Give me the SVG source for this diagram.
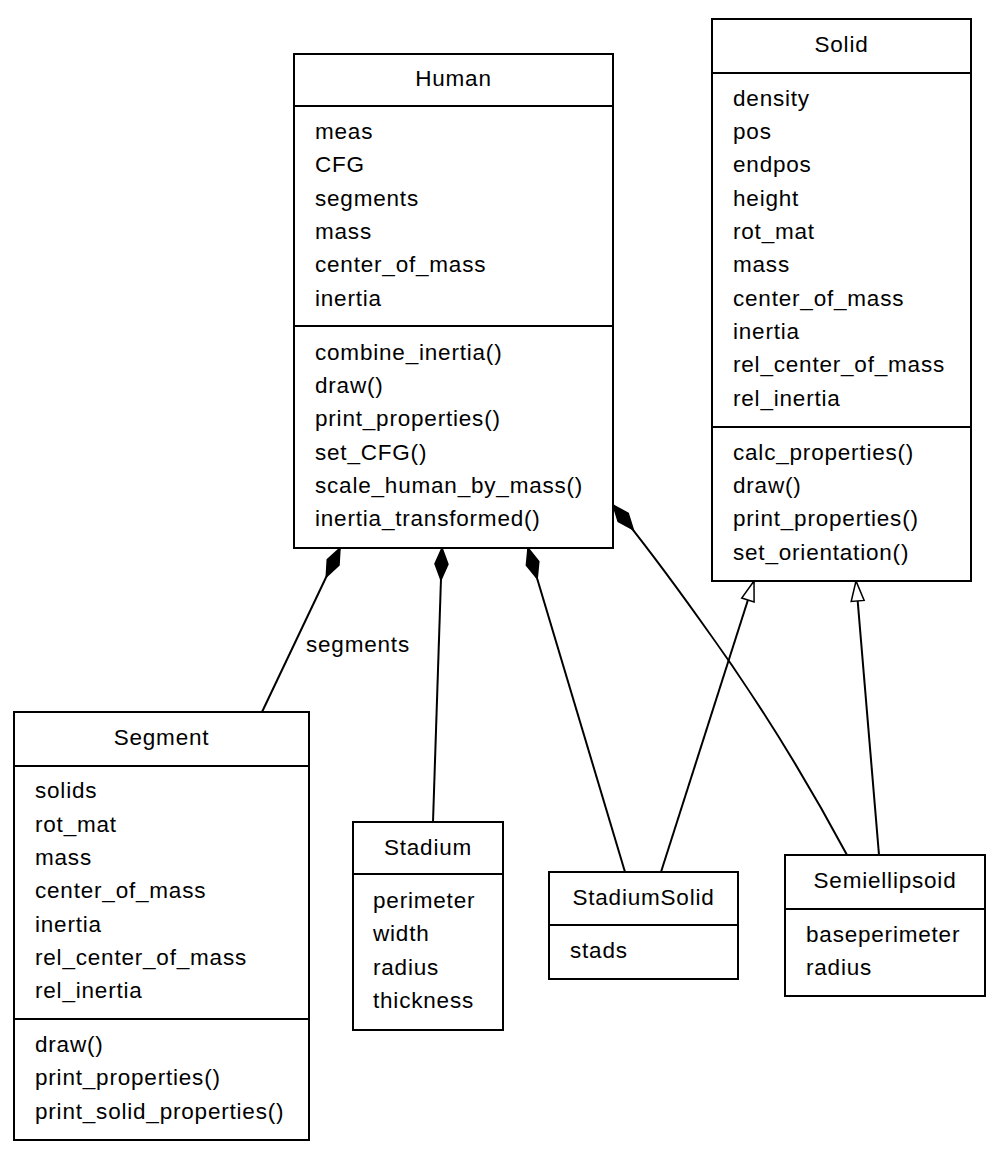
<svg xmlns="http://www.w3.org/2000/svg" width="1000" height="1163" viewBox="0 0 1000 1163">
<style>
rect{fill:#fff;stroke:#000;stroke-width:2}
line.s{stroke:#000;stroke-width:2}
text{font-family:"Liberation Sans",Arial,sans-serif;font-size:22.5px;letter-spacing:0.8px;fill:#000}
.t{text-anchor:middle}
.c{fill:none;stroke:#000;stroke-width:2}
</style>
<defs>
<marker id="dia" markerUnits="userSpaceOnUse" markerWidth="36" markerHeight="16" viewBox="-34 -8 36 16" refX="0" refY="0" orient="auto">
<path d="M0,0 L-16,-6.5 L-32,0 L-16,6.5 Z" fill="#000" stroke="#000" stroke-width="1.5"/>
</marker>
<marker id="tri" markerUnits="userSpaceOnUse" markerWidth="24" markerHeight="16" viewBox="-22 -8 24 16" refX="0" refY="0" orient="auto">
<path d="M0,0 L-20,-6.5 L-20,6.5 Z" fill="#fff" stroke="#000" stroke-width="1.5"/>
</marker>
</defs>
<g id="connectors">
<path class="c" d="M262,712 L340,548" marker-end="url(#dia)"/>
<text x="306" y="652">segments</text>
<path class="c" d="M433,822 L442,548" marker-end="url(#dia)"/>
<path class="c" d="M625,872 L528,548" marker-end="url(#dia)"/>
<path class="c" d="M847,855 Q780,730 700,620 Q650,550 613,505" marker-end="url(#dia)"/>
<path class="c" d="M661,872 L754,581" marker-end="url(#tri)"/>
<path class="c" d="M879,855 L856,581" marker-end="url(#tri)"/>
</g>
<g id="Human">
<rect x="294" y="54" width="319" height="494"/>
<line class="s" x1="294" y1="106" x2="613" y2="106"/>
<line class="s" x1="294" y1="326" x2="613" y2="326"/>
<text class="t" x="453.5" y="86">Human</text>
<text x="315" y="139">meas</text><text x="315" y="172">CFG</text><text x="315" y="206">segments</text><text x="315" y="239">mass</text><text x="315" y="272">center_of_mass</text><text x="315" y="306">inertia</text>
<text x="315" y="360">combine_inertia()</text><text x="315" y="393">draw()</text><text x="315" y="426">print_properties()</text><text x="315" y="460">set_CFG()</text><text x="315" y="493">scale_human_by_mass()</text><text x="315" y="526">inertia_transformed()</text>
</g>
<g id="Solid">
<rect x="712" y="19" width="259" height="562"/>
<line class="s" x1="712" y1="73" x2="971" y2="73"/>
<line class="s" x1="712" y1="427" x2="971" y2="427"/>
<text class="t" x="841.5" y="52">Solid</text>
<text x="733" y="106">density</text><text x="733" y="139">pos</text><text x="733" y="172">endpos</text><text x="733" y="206">height</text><text x="733" y="239">rot_mat</text><text x="733" y="272">mass</text><text x="733" y="306">center_of_mass</text><text x="733" y="339">inertia</text><text x="733" y="372">rel_center_of_mass</text><text x="733" y="406">rel_inertia</text>
<text x="733" y="460">calc_properties()</text><text x="733" y="493">draw()</text><text x="733" y="526">print_properties()</text><text x="733" y="560">set_orientation()</text>
</g>
<g id="Segment">
<rect x="14" y="712" width="295" height="428"/>
<line class="s" x1="14" y1="766" x2="309" y2="766"/>
<line class="s" x1="14" y1="1019" x2="309" y2="1019"/>
<text class="t" x="161.5" y="745">Segment</text>
<text x="35" y="798">solids</text><text x="35" y="832">rot_mat</text><text x="35" y="865">mass</text><text x="35" y="898">center_of_mass</text><text x="35" y="932">inertia</text><text x="35" y="965">rel_center_of_mass</text><text x="35" y="998">rel_inertia</text>
<text x="35" y="1052">draw()</text><text x="35" y="1085">print_properties()</text><text x="35" y="1119">print_solid_properties()</text>
</g>
<g id="Stadium">
<rect x="353" y="822" width="150" height="208"/>
<line class="s" x1="353" y1="874" x2="503" y2="874"/>
<text class="t" x="428" y="855">Stadium</text>
<text x="373" y="908">perimeter</text><text x="373" y="941">width</text><text x="373" y="975">radius</text><text x="373" y="1008">thickness</text>
</g>
<g id="StadiumSolid">
<rect x="549" y="872" width="189" height="107"/>
<line class="s" x1="549" y1="925" x2="738" y2="925"/>
<text class="t" x="643.5" y="905">StadiumSolid</text>
<text x="570" y="958">stads</text>
</g>
<g id="Semiellipsoid">
<rect x="785" y="855" width="200" height="141"/>
<line class="s" x1="785" y1="909" x2="985" y2="909"/>
<text class="t" x="885" y="888">Semiellipsoid</text>
<text x="806" y="942">baseperimeter</text><text x="806" y="975">radius</text>
</g>
</svg>
